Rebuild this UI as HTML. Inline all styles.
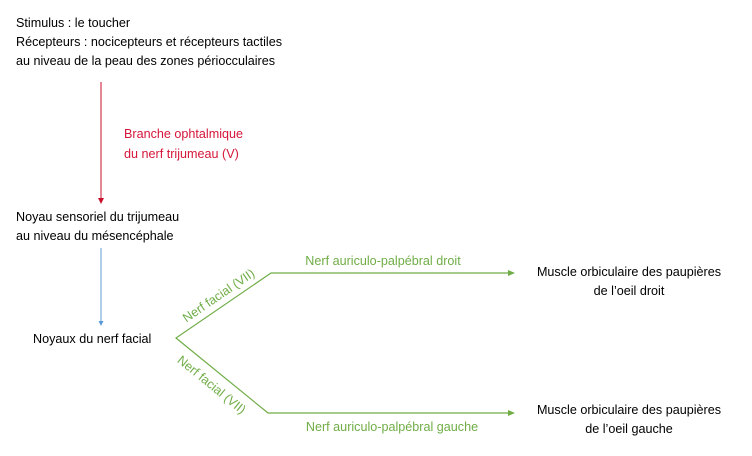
<!DOCTYPE html>
<html><head><meta charset="utf-8"><style>
html,body{margin:0;padding:0;background:#fff;}
svg{display:block;font-family:"Liberation Sans",sans-serif;font-size:12.6px;}
</style></head><body>
<svg width="752" height="456" viewBox="0 0 752 456" xmlns="http://www.w3.org/2000/svg">
<g fill="#000">
<text x="16" y="27">Stimulus : le toucher</text>
<text x="16" y="46">Récepteurs : nocicepteurs et récepteurs tactiles</text>
<text x="16" y="65">au niveau de la peau des zones périocculaires</text>
<text x="16" y="221">Noyau sensoriel du trijumeau</text>
<text x="16" y="240">au niveau du mésencéphale</text>
<text x="33" y="343">Noyaux du nerf facial</text>
<text x="629" y="276" text-anchor="middle">Muscle orbiculaire des paupières</text>
<text x="629" y="295" text-anchor="middle">de l’oeil droit</text>
<text x="629" y="414" text-anchor="middle">Muscle orbiculaire des paupières</text>
<text x="629" y="433" text-anchor="middle">de l’oeil gauche</text>
</g>
<g fill="#d6163a">
<text x="124" y="138">Branche ophtalmique</text>
<text x="124" y="158">du nerf trijumeau (V)</text>
</g>
<line x1="101" y1="82" x2="101" y2="199" stroke="#c8102e" stroke-width="1"/>
<polygon points="98,198 104,198 101,204" fill="#c8102e"/>
<line x1="101" y1="248" x2="101" y2="322" stroke="#5b9bd5" stroke-width="1"/>
<polygon points="98.5,321 103.5,321 101,326" fill="#5b9bd5"/>
<g stroke="#70ad47" stroke-width="1.2" fill="none">
<polyline points="513,273 271,273 176,338 268,413 513,413"/>
</g>
<g fill="#70ad47">
<polygon points="508,270 515,273 508,276"/>
<polygon points="508,410 515,413 508,416"/>
<text x="383" y="265" text-anchor="middle">Nerf auriculo-palpébral droit</text>
<text x="392" y="431" text-anchor="middle">Nerf auriculo-palpébral gauche</text>
<text transform="translate(221,299) rotate(-34.4)" text-anchor="middle">Nerf facial (VII)</text>
<text transform="translate(209,388) rotate(39.2)" text-anchor="middle">Nerf facial (VII)</text>
</g>
</svg>
</body></html>
